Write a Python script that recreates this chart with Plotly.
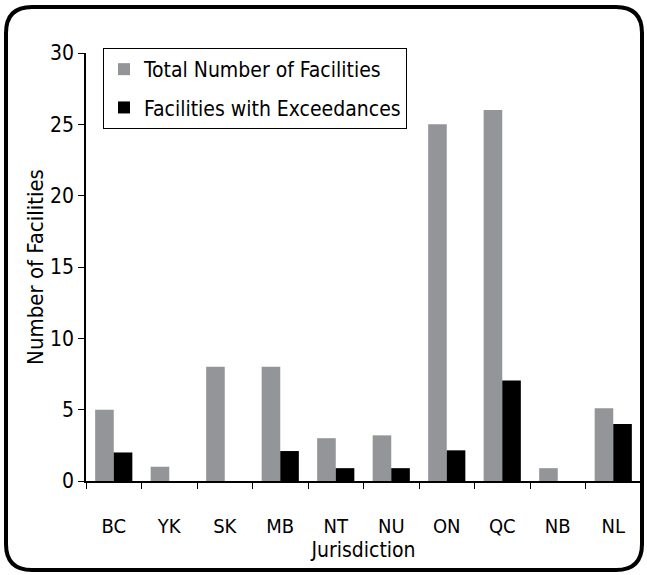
import plotly.graph_objects as go

categories = ["BC", "YK", "SK", "MB", "NT", "NU", "ON", "QC", "NB", "NL"]
total_facilities = [5, 1, 8, 8, 3, 3.2, 25, 26, 0.9, 5.1]
exceedance_facilities = [2, 0, 0, 2.1, 0.9, 0.9, 2.15, 7.05, 0, 4]
y_ticks = [0, 5, 10, 15, 20, 25, 30]

W, H = 647, 575
ML, MR, MT, MB = 86, 6, 53, 94
pw, ph = W - ML - MR, H - MT - MB

FONT = "DejaVu Sans Condensed, Liberation Sans Narrow, sans-serif"

fig = go.Figure()
fig.add_trace(go.Bar(x=categories, y=total_facilities, name="Total Number of Facilities",
                     legendgroup="a", marker=dict(color="#939598", line=dict(width=0))))
fig.add_trace(go.Bar(x=categories, y=exceedance_facilities, name="Facilities with Exceedances",
                     legendgroup="b", marker=dict(color="#000000", line=dict(width=0))))

def px_x(x):
    return (x - ML) / pw

def px_y(y):
    return (H - MB - y) / ph

# rounded border
x0, x1, y0, y1, r = 6, 642, 7, 570, 26
path = (f"M {px_x(x0 + r)},{px_y(y0)} L {px_x(x1 - r)},{px_y(y0)} "
        f"Q {px_x(x1)},{px_y(y0)} {px_x(x1)},{px_y(y0 + r)} "
        f"L {px_x(x1)},{px_y(y1 - r)} Q {px_x(x1)},{px_y(y1)} {px_x(x1 - r)},{px_y(y1)} "
        f"L {px_x(x0 + r)},{px_y(y1)} Q {px_x(x0)},{px_y(y1)} {px_x(x0)},{px_y(y1 - r)} "
        f"L {px_x(x0)},{px_y(y0 + r)} Q {px_x(x0)},{px_y(y0)} {px_x(x0 + r)},{px_y(y0)} Z")

fig.update_layout(
    width=W, height=H,
    margin=dict(l=ML, r=MR, t=MT, b=MB),
    paper_bgcolor="white", plot_bgcolor="white",
    font=dict(family=FONT, size=20, color="#000"),
    barmode="group", bargap=0.33, bargroupgap=0,
    showlegend=True,
    legend=dict(x=px_x(103), y=px_y(48), xanchor="left", yanchor="top",
                bordercolor="#000", borderwidth=1, bgcolor="white",
                traceorder="grouped", tracegroupgap=8,
                font=dict(family=FONT, size=21)),
    xaxis=dict(title=dict(text="Jurisdiction", font=dict(size=21), standoff=6),
               showline=True, linecolor="#000", linewidth=1.5,
               ticks="outside", tickson="boundaries", ticklen=6, tickcolor="#000",
               ticklabelstandoff=26,
               range=[-0.5, 9.5], showgrid=False, zeroline=False,
               tickfont=dict(size=20)),
    yaxis=dict(title=dict(text="Number of Facilities", font=dict(size=22), standoff=0),
               showline=True, linecolor="#000", linewidth=1.5,
               ticks="outside", ticklen=6, tickcolor="#000",
               range=[0, 30], tickvals=y_ticks, showgrid=False, zeroline=False,
               tickfont=dict(size=21)),
    shapes=[dict(type="path", xref="paper", yref="paper", path=path,
                 line=dict(color="#000", width=4), fillcolor="rgba(0,0,0,0)", layer="below")],
)

fig.write_html("out.html", config={"displayModeBar": False},
               post_script="document.body.style.margin='0';")
